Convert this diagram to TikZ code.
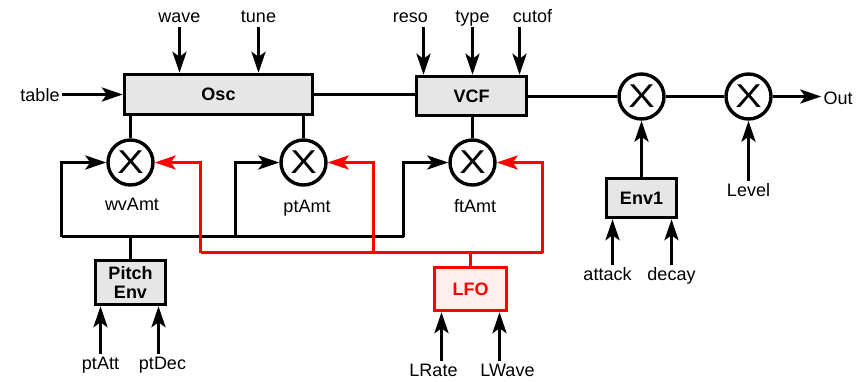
\documentclass[tikz,border=0pt]{standalone}
\usepackage{fontspec}
\setmainfont{Liberation Sans}
\usetikzlibrary{arrows.meta,positioning,calc}

\definecolor{boxgray}{HTML}{E6E6E6}
\definecolor{lfored}{HTML}{FF0000}
\definecolor{lfofill}{HTML}{FFEEEE}

\tikzset{
  sig/.style={line width=3.4bp},
  arr/.style={sig,-{Stealth[length=21bp,width=14bp,inset=5bp]}},
  blockbox/.style={draw,line width=3.4bp,fill=boxgray,align=center,inner sep=0pt,
    font=\fontsize{18bp}{19bp}\selectfont\bfseries},
  mixer/.style={circle,draw,line width=3.4bp,minimum size=45bp,inner sep=0pt,
    font=\fontsize{33bp}{33bp}\selectfont},
  lbl/.style={font=\fontsize{18bp}{21bp}\selectfont,anchor=base,inner sep=2bp,
    text height=13bp,text depth=3bp},
}

\begin{document}
\begin{tikzpicture}[x=1bp,y=-1bp,>=Stealth]
  \useasboundingbox (0,0) rectangle (858,381);

  % blocks
  \node[blockbox,minimum width=188bp,minimum height=40bp] (osc) at (218.5,94.5) {Osc};
  \node[blockbox,minimum width=110bp,minimum height=39bp] (vcf) at (471.5,96) {VCF};
  \node[blockbox,minimum width=70bp,minimum height=39bp] (env) at (641.5,198) {Env1};
  \node[blockbox,minimum width=70bp,minimum height=44bp] (pe) at (130.5,282.5) {Pitch\\Env};
  \node[blockbox,draw=lfored,fill=lfofill,text=lfored,minimum width=72bp,minimum height=43bp] (lfo) at (470.5,289) {LFO};

  % multipliers
  \node[mixer] (wv) at (130.5,162.5) {\scalebox{1.2}[1]{X}};
  \node[mixer] (pt) at (303.5,162.5) {\scalebox{1.2}[1]{X}};
  \node[mixer] (ft) at (472.5,162.5) {\scalebox{1.2}[1]{X}};
  \node[mixer] (amp) at (641.5,96.5) {\scalebox{1.2}[1]{X}};
  \node[mixer] (lev) at (748.5,96.5) {\scalebox{1.2}[1]{X}};

  % labels
  \node[lbl] (wave) at (179.5,22) {wave};
  \node[lbl] (tune) at (258.5,22) {tune};
  \node[lbl] (reso) at (410.5,22) {reso};
  \node[lbl] (type) at (472.5,22) {type};
  \node[lbl] (cutof) at (532.5,22) {cutof};
  \node[lbl] (table) at (40,101) {table};
  \node[lbl] (out) at (838,104) {Out};
  \node[lbl] (level) at (748.5,196) {Level};
  \node[lbl] (wvamt) at (132,210) {wvAmt};
  \node[lbl] (ptamt) at (307,212) {ptAmt};
  \node[lbl] (ftamt) at (475,212) {ftAmt};
  \node[lbl] (ptatt) at (100.5,369) {ptAtt};
  \node[lbl] (ptdec) at (162.5,369) {ptDec};
  \node[lbl] (attack) at (607.5,280) {attack};
  \node[lbl] (decay) at (671.5,280) {decay};
  \node[lbl] (lrate) at (433.5,376) {LRate};
  \node[lbl] (lwave) at (507.5,376) {LWave};

  % bus corners
  \coordinate (bl1) at (61.5,236.5);
  \coordinate (bl2) at (235.5,236.5);
  \coordinate (bl3) at (403.5,236.5);
  \coordinate (rl1) at (200.5,252.5);
  \coordinate (rl2) at (373.5,252.5);
  \coordinate (rl3) at (542.5,252.5);

  % audio path
  \draw[arr] (table.east |- osc.west) -- (osc.west);
  \draw[sig] (osc.east) -- (osc.east -| vcf.west);
  \draw[sig] (vcf.east |- amp) -- (amp);
  \draw[sig] (amp) -- (lev);
  \draw[arr] (lev.east) -- (out.west |- lev.east);

  % control inputs from above
  \draw[arr] (wave) -- (wave |- osc.north);
  \draw[arr] (tune) -- (tune |- osc.north);
  \draw[arr] ($(reso.south)+(13,0)$) -- ($(reso.south |- vcf.north)+(13,0)$);
  \draw[arr] (type) -- (type |- vcf.north);
  \draw[arr] ($(cutof.south)+(-13,0)$) -- ($(cutof.south |- vcf.north)+(-13,0)$);

  % block to multiplier links
  \draw[sig] (osc.south -| wv) -- (wv);
  \draw[sig] (osc.south -| pt) -- (pt);
  \draw[sig] (vcf.south -| ft) -- (ft);
  \draw[arr] (env) -- (amp);
  \draw[arr] (level) -- (lev);

  % pitch envelope bus
  \draw[sig] (pe) -- (pe |- bl1);
  \draw[sig] (bl1) -- (bl3);
  \draw[arr] (bl1) |- (wv);
  \draw[arr] (bl2) |- (pt);
  \draw[arr] (bl3) |- (ft);

  % lfo bus
  \draw[sig,lfored] (lfo) -- (lfo |- rl1);
  \draw[sig,lfored] (rl1) -- (rl3);
  \draw[arr,lfored] (rl1) |- (wv);
  \draw[arr,lfored] (rl2) |- (pt);
  \draw[arr,lfored] (rl3) |- (ft);

  % inputs from below
  \draw[arr] (ptatt) -- (ptatt |- pe.south);
  \draw[arr] ($(ptdec.north)+(-4,0)$) -- ($(ptdec.north |- pe.south)+(-4,0)$);
  \draw[arr] ($(attack.north)+(5,0)$) -- ($(attack.north |- env.south)+(5,0)$);
  \draw[arr] (decay) -- (decay |- env.south);
  \draw[arr] ($(lrate.north)+(8,0)$) -- ($(lrate.north |- lfo.south)+(8,0)$);
  \draw[arr] ($(lwave.north)+(-8,0)$) -- ($(lwave.north |- lfo.south)+(-8,0)$);
\end{tikzpicture}
\end{document}
